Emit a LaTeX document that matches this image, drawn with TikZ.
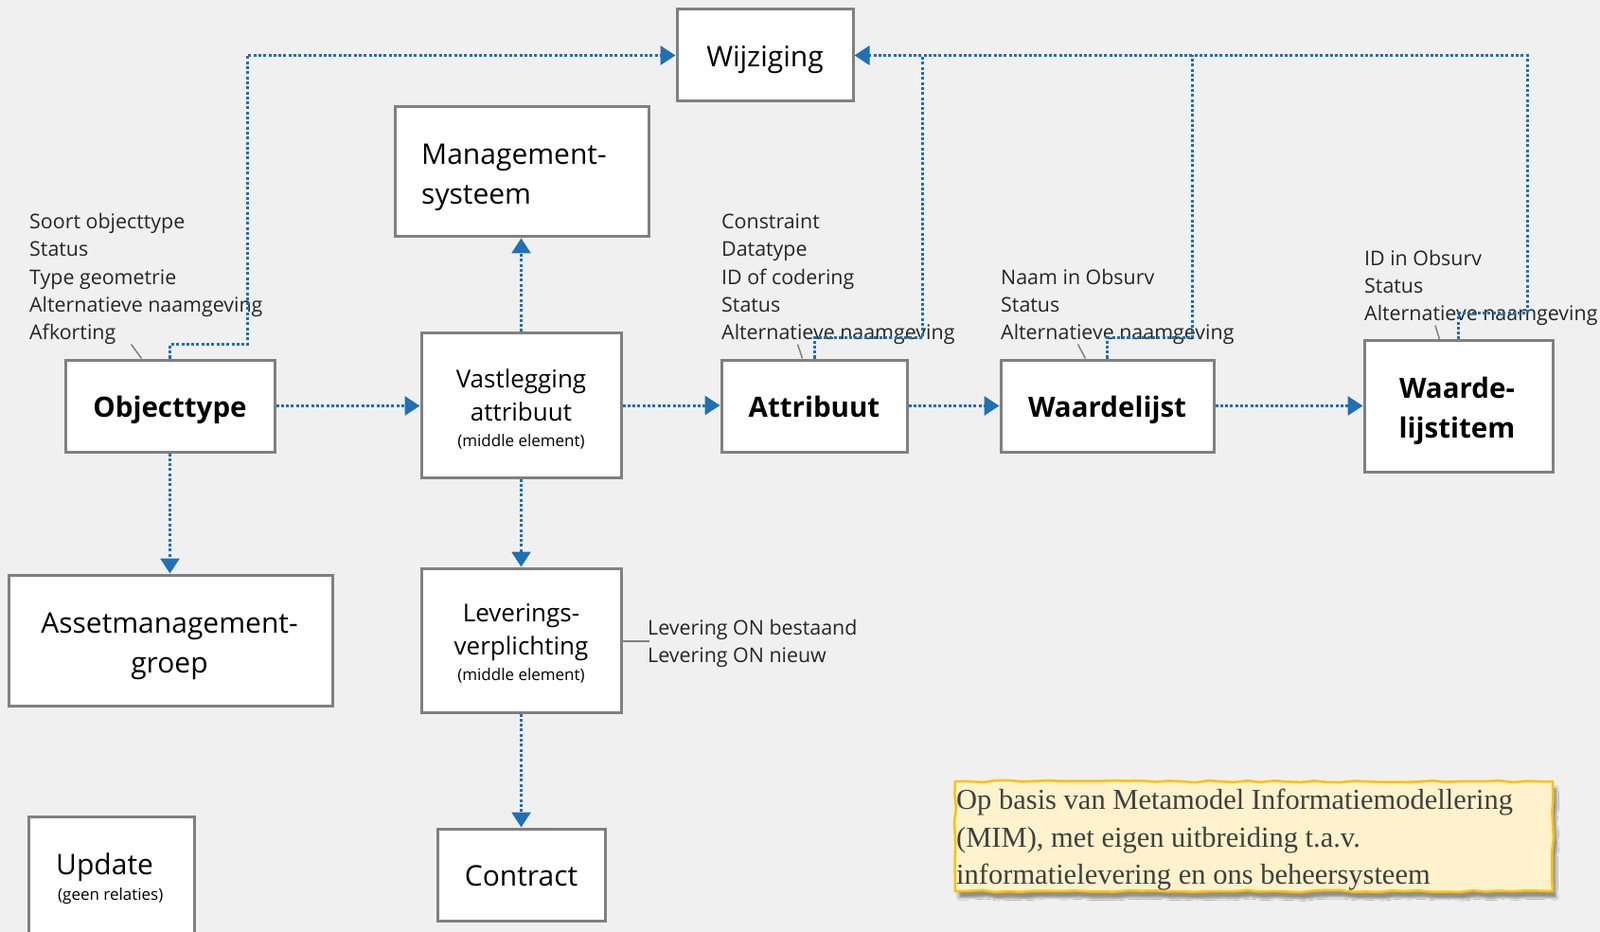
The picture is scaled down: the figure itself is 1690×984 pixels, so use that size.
\documentclass[tikz,border=0pt]{standalone}
\usepackage{fontspec}
\setmainfont{Open Sans}
\newfontfamily\notefont{Liberation Serif}
\usetikzlibrary{arrows.meta,shadows.blur,decorations.pathmorphing}
\definecolor{bg}{RGB}{240,240,240}
\definecolor{conblue}{RGB}{31,112,181}
\definecolor{boxgray}{RGB}{128,128,128}
\definecolor{notefill}{RGB}{255,242,204}
\definecolor{noteborder}{RGB}{255,192,0}
\definecolor{notetext}{RGB}{64,64,64}
\begin{document}
\begin{tikzpicture}[x=1pt,y=-1pt,
  box/.style={draw=boxgray, line width=3pt, fill=white, inner sep=0pt, align=center},
  bigtxt/.style={font=\fontsize{30}{42}\selectfont, inner sep=0pt},
  boldtxt/.style={font=\fontsize{29.5}{42}\selectfont\bfseries, inner sep=0pt},
  midtxt/.style={font=\fontsize{26}{35}\selectfont, inner sep=0pt},
  smalltxt/.style={font=\fontsize{17}{22}\selectfont, inner sep=0pt},
  conn/.style={draw=conblue, line width=3pt, dash pattern=on 3pt off 2.3pt, -{Triangle[length=16pt,width=20pt]}},
  connline/.style={draw=conblue, line width=3pt, dash pattern=on 3pt off 2.3pt},
  leader/.style={draw=boxgray, line width=1.5pt},
  anno/.style={font=\fontsize{21.4}{29}\selectfont, inner sep=0pt, anchor=base west, text=black!85},
  note/.style={draw=noteborder, line width=2.5pt, fill=notefill, inner sep=0pt,
    decorate, decoration={random steps, segment length=14pt, amplitude=1.2pt},
    blur shadow={shadow xshift=4pt, shadow yshift=-7pt, shadow blur steps=6, shadow opacity=40}},
  notetxt/.style={font=\notefont\fontsize{30.5}{40}\selectfont, text=notetext, inner sep=0pt, anchor=base west}
]
\useasboundingbox (0,0) rectangle (1690,984);
\clip (0,0) rectangle (1690,984);
\fill[bg] (0,0) rectangle (1690,984);

% boxes
\node[box, minimum width=186, minimum height=97, bigtxt, text height=25, text depth=0] (wij) at (808,58.5) {Wijziging};
\node[box, minimum width=268, minimum height=137] (mgmt) at (551,181.5) {};
\node[box, minimum width=221, minimum height=97, boldtxt, text height=24, text depth=0] (obj) at (179.5,428.5) {Objecttype};
\node[box, minimum width=211, minimum height=152] (vast) at (550.5,428) {};
\node[box, minimum width=196, minimum height=97, boldtxt, text height=23, text depth=0] (attr) at (860,428.5) {Attribuut};
\node[box, minimum width=225, minimum height=97, boldtxt, text height=24, text depth=0] (wl) at (1169.5,428.5) {Waardelijst};
\node[box, minimum width=199, minimum height=138] (wli) at (1540.5,429) {};
\node[box, minimum width=342, minimum height=138] (asset) at (180,676) {};
\node[box, minimum width=211, minimum height=152] (lev) at (550.5,676) {};
\node[box, minimum width=177, minimum height=97, bigtxt, text height=23, text depth=0] (contract) at (550.5,923.5) {Contract};
\node[box, minimum width=175, minimum height=140] (upd) at (117.5,932) {};

% multi-line labels
\node[bigtxt, anchor=base west] (mgmt1) at (445,174) {Management-};
\node[bigtxt, anchor=base west] (mgmt2) at (445,216) {systeem};
\node[midtxt, anchor=base] (vast1) at (550.5,409) {Vastlegging};
\node[midtxt, anchor=base] (vast2) at (550.5,444) {attribuut};
\node[smalltxt, anchor=base] (vast3) at (550.5,471) {(middle element)};
\node[midtxt, anchor=base] (lev1) at (550.5,656) {Leverings-};
\node[midtxt, anchor=base] (lev2) at (550.5,691) {verplichting};
\node[smalltxt, anchor=base] (lev3) at (550.5,718) {(middle element)};
\node[boldtxt, anchor=base] (wli1) at (1539,420) {Waarde-};
\node[boldtxt, anchor=base] (wli2) at (1539,462) {lijstitem};
\node[bigtxt, anchor=base] (asset1) at (179,668) {Assetmanagement-};
\node[bigtxt, anchor=base] (asset2) at (179,710) {groep};
\node[bigtxt, anchor=base west] (upd1) at (59,923) {Update};
\node[smalltxt, anchor=base west] (upd2) at (61,950) {(geen relaties)};

% annotations
\node[anno] (oa1) at (31,242) {Soort objecttype};
\node[anno] (oa2) at (31,271) {Status};
\node[anno] (oa3) at (31,301) {Type geometrie};
\node[anno] (oa4) at (31,330) {Alternatieve naamgeving};
\node[anno] (oa5) at (31,359) {Afkorting};
\node[anno] (aa1) at (762,242) {Constraint};
\node[anno] (aa2) at (762,271) {Datatype};
\node[anno] (aa3) at (762,301) {ID of codering};
\node[anno] (aa4) at (762,330) {Status};
\node[anno] (aa5) at (762,359) {Alternatieve naamgeving};
\node[anno] (wa1) at (1057,301) {Naam in Obsurv};
\node[anno] (wa2) at (1057,330) {Status};
\node[anno] (wa3) at (1057,359) {Alternatieve naamgeving};
\node[anno] (ia1) at (1441,281) {ID in Obsurv};
\node[anno] (ia2) at (1441,310) {Status};
\node[anno] (ia3) at (1441,339) {Alternatieve naamgeving};
\node[anno] (la1) at (684,670) {Levering ON bestaand};
\node[anno] (la2) at (684,699) {Levering ON nieuw};

% leaders
\draw[leader] (obj.north west) ++(82,0) -- ++(-11,-15);
\draw[leader] (attr.north west) ++(87,0) -- ++(-5,-15);
\draw[leader] (wl.north west) ++(91,0) -- ++(-8,-15);
\draw[leader] (wli.north west) ++(81,0) -- ++(-4.5,-15);
\draw[leader] (lev.east) ++(0,1) -- ++(28,0);

% connectors
\draw[conn] (obj.north) |- (261,364) |- (wij.west);
\draw[conn] (obj.east) -- (obj.east -| vast.west);
\draw[conn] (vast.east) -- (vast.east -| attr.west);
\draw[conn] (attr.east) -- (wl.west);
\draw[conn] (wl.east) -- (wl.east -| wli.west);
\draw[conn] (vast.north) -- (vast.north |- mgmt.south);
\draw[conn] (obj.south) -- (obj.south |- asset.north);
\draw[conn] (vast.south) -- (lev.north);
\draw[conn] (lev.south) -- (contract.north);
\draw[conn] (wli.north) |- (1613,331) |- (wij.east);
\coordinate (ja) at (974,58.5);
\coordinate (jb) at (1259,58.5);
\draw[connline] (attr.north) |- (974,357) -- (ja);
\draw[connline] (wl.north) |- (1259,357) -- (jb);

% note
\node[note, minimum width=631, minimum height=116] (note) at (1324.5,883) {};
\node[notetxt] (n1) at (1010,854) {Op basis van Metamodel Informatiemodellering};
\node[notetxt] (n2) at (1010,894) {(MIM), met eigen uitbreiding t.a.v.};
\node[notetxt] (n3) at (1010,933) {informatielevering en ons beheersysteem};
\end{tikzpicture}
\end{document}
